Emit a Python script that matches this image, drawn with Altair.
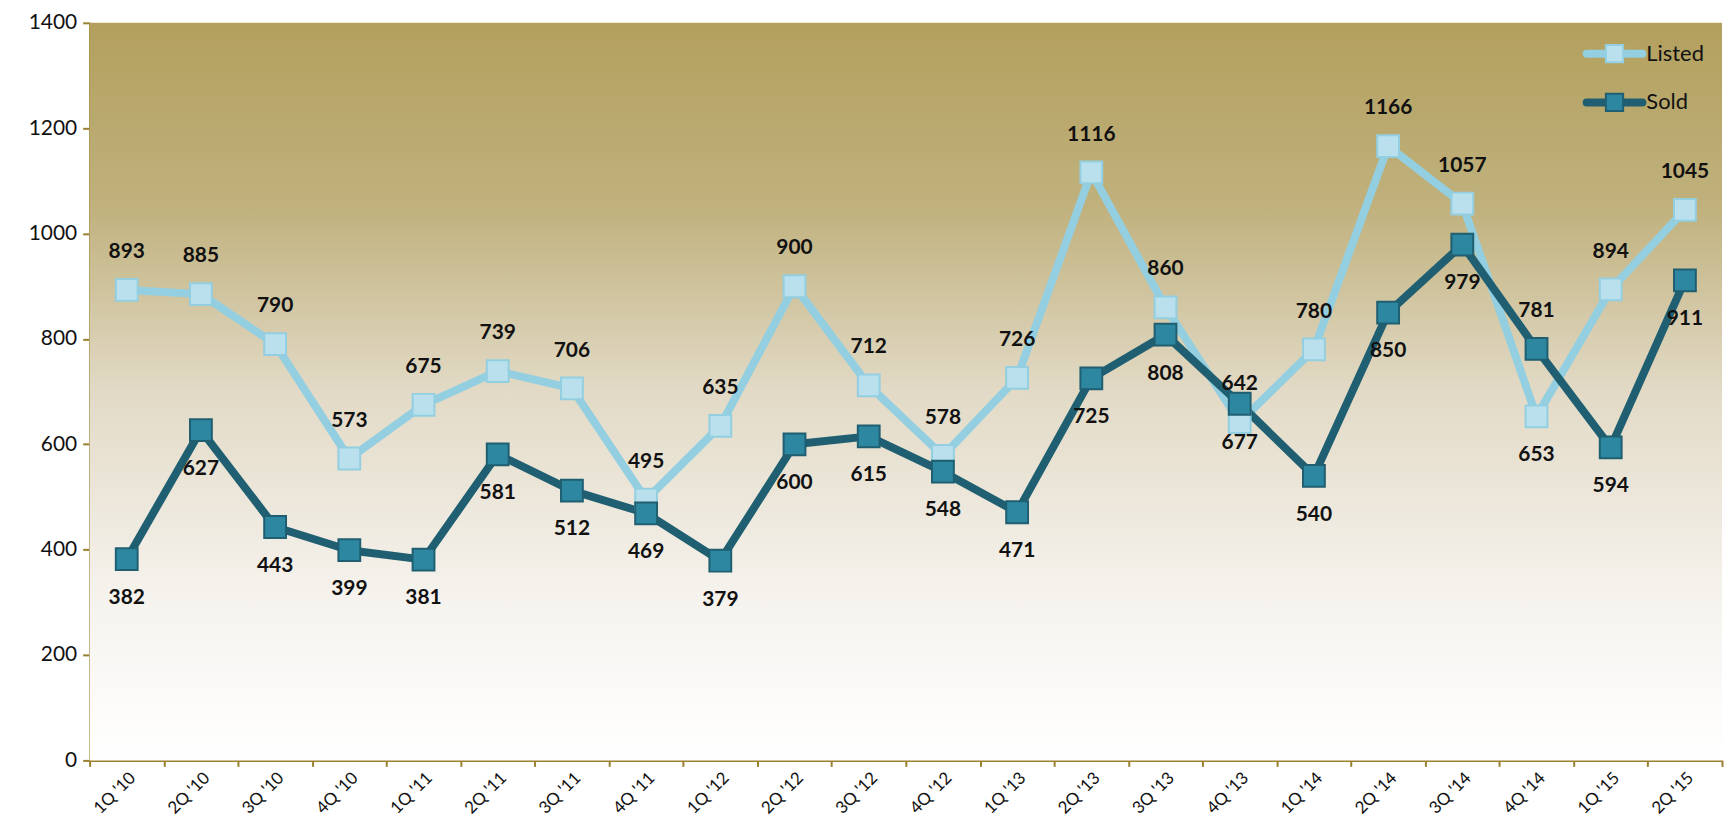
import altair as alt
import pandas as pd

quarters = ["1Q '10", "2Q '10", "3Q '10", "4Q '10", "1Q '11", "2Q '11", "3Q '11", "4Q '11",
            "1Q '12", "2Q '12", "3Q '12", "4Q '12", "1Q '13", "2Q '13", "3Q '13", "4Q '13",
            "1Q '14", "2Q '14", "3Q '14", "4Q '14", "1Q '15", "2Q '15"]
listed = [893, 885, 790, 573, 675, 739, 706, 495, 635, 900, 712, 578, 726, 1116, 860, 642,
          780, 1166, 1057, 653, 894, 1045]
sold = [382, 627, 443, 399, 381, 581, 512, 469, 379, 600, 615, 548, 471, 725, 808, 677,
        540, 850, 979, 781, 594, 911]
# label placement: +1 above the point, -1 below
listed_pos = [1] * 22
sold_pos = [-1] * 22
listed_pos[19] = -1
sold_pos[19] = 1

rows = []
for i, q in enumerate(quarters):
    rows.append({"q": q, "series": "Listed", "v": listed[i], "pos": listed_pos[i], "order": i})
    rows.append({"q": q, "series": "Sold", "v": sold[i], "pos": sold_pos[i], "order": i})
df = pd.DataFrame(rows)

W, H = 1640, 741
FONT = "Lato"
AXIS_COLOR = "#9a7f2e"
LISTED_LINE, LISTED_FILL = "#93cfe1", "#b9e0ec"
SOLD_LINE, SOLD_FILL = "#1f5f71", "#2e87a1"

x = alt.X("q:N", sort=quarters, bandPosition=0.5,
          scale=alt.Scale(type="band", paddingInner=0, paddingOuter=0),
          axis=alt.Axis(title=None, labelAngle=-45, labelAlign="right", labelBaseline="top",
                        tickBand="extent", labelFontSize=17, labelFont=FONT, labelColor="#111",
                        domainColor=AXIS_COLOR, tickColor=AXIS_COLOR, domainWidth=2, tickWidth=2,
                        tickSize=6, labelPadding=3, grid=False))
y = alt.Y("v:Q", scale=alt.Scale(domain=[0, 1400], nice=False),
          axis=alt.Axis(title=None, values=list(range(0, 1401, 200)), format="d",
                        labelFontSize=21, labelFont=FONT, labelColor="#111",
                        domainColor=AXIS_COLOR, tickColor=AXIS_COLOR, domainWidth=2,
                        tickWidth=2, tickSize=7, labelPadding=6, grid=False))

grad = alt.LinearGradient(gradient="linear", x1=0, y1=0, x2=0, y2=1, stops=[
    alt.GradientStop(color="#b3a05e", offset=0),
    alt.GradientStop(color="#c0b17d", offset=0.25),
    alt.GradientStop(color="#e2dac6", offset=0.5),
    alt.GradientStop(color="#f6f3ee", offset=0.78),
    alt.GradientStop(color="#ffffff", offset=1)])

one = pd.DataFrame({"a": [0]})
bg = alt.Chart(one).mark_rect(color=grad).encode(
    x=alt.value(0), x2=alt.value(W), y=alt.value(0), y2=alt.value(H))

line_colors = alt.Scale(domain=["Listed", "Sold"], range=[LISTED_LINE, SOLD_LINE])
pt_fill = alt.Scale(domain=["Listed", "Sold"], range=[LISTED_FILL, SOLD_FILL])

base = alt.Chart(df)
lines = base.mark_line(strokeWidth=8, strokeJoin="round").encode(
    x=x, y=y, color=alt.Color("series:N", scale=line_colors, legend=None),
    detail="series:N", order="order:Q")
pts = base.mark_square(size=480, opacity=1, strokeWidth=2).encode(
    x=x, y=y, fill=alt.Fill("series:N", scale=pt_fill, legend=None),
    stroke=alt.Stroke("series:N", scale=line_colors, legend=None))
lab_up = base.transform_filter("datum.pos > 0").mark_text(
    dy=-38, fontSize=21, fontWeight="bold", font=FONT, color="#111").encode(
    x=x, y=y, text="v:Q")
lab_dn = base.transform_filter("datum.pos < 0").mark_text(
    dy=39, fontSize=21, fontWeight="bold", font=FONT, color="#111").encode(
    x=x, y=y, text="v:Q")

# manual legend
def legend_row(name, ly, lc, fc):
    c = alt.Chart(one)
    ln = c.mark_rule(strokeWidth=8, strokeCap="round", color=lc).encode(
        x=alt.value(1504), x2=alt.value(1560), y=alt.value(ly))
    sq = c.mark_square(size=300, opacity=1, strokeWidth=2, fill=fc, stroke=lc).encode(
        x=alt.value(1532), y=alt.value(ly))
    tx = c.mark_text(align="left", baseline="middle", fontSize=22, font=FONT,
                     color="#111", text=name).encode(x=alt.value(1564), y=alt.value(ly))
    return [ln, sq, tx]

legend_layers = legend_row("Listed", 31, LISTED_LINE, LISTED_FILL) + \
    legend_row("Sold", 80, SOLD_LINE, SOLD_FILL)

chart = alt.layer(bg, lines, pts, lab_up, lab_dn, *legend_layers).properties(
    width=W, height=H, autosize=alt.AutoSizeParams(type="none"),
    padding={"left": 82, "top": 13, "right": 3, "bottom": 60}, background="white"
).configure_view(stroke=None)

chart.save("out.html", embed_options={"renderer": "svg", "actions": False})
